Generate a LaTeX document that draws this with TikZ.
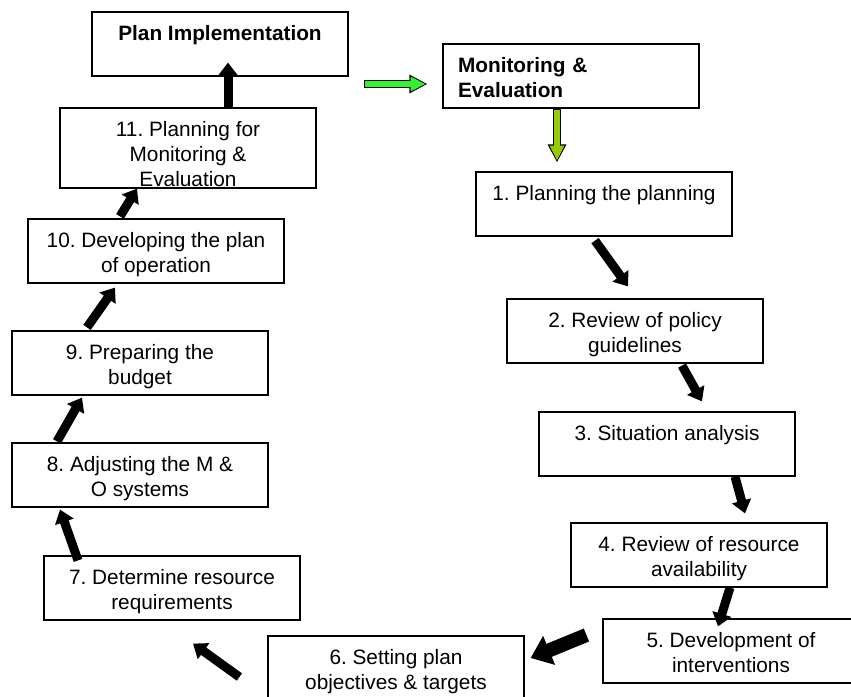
\documentclass[tikz,border=0pt]{standalone}
\usepackage{fontspec}
\setmainfont{Liberation Sans}
\usetikzlibrary{arrows.meta,calc}

\definecolor{brightgreen}{RGB}{51,240,51}
\definecolor{olivegreen}{RGB}{153,204,0}

\tikzset{
  stepbox/.style={draw, line width=1.2pt, inner sep=0pt, minimum width=256pt, minimum height=64pt},
  steptext/.style={anchor=north, yshift=-14pt, inner sep=0pt, align=center, font=\fontsize{20.8}{24.8}\selectfont},
  boldtext/.style={steptext, font=\fontsize{20.8}{24.8}\selectfont\bfseries},
  blockarrow/.style={line width=9pt, -{Triangle[length=13pt,width=19pt]}},
  bigarrow/.style={line width=14pt, -{Triangle[length=20pt,width=30pt]}},
  outlinearrow/.style={line width=8.6pt, -{Triangle[length=18pt,width=17.5pt]}},
  fillarrow/.style={#1, line width=6pt, shorten <=1.3pt, shorten >=1.8pt, -{Triangle[length=15pt,width=13.5pt]}},
}

\begin{document}
\frenchspacing
\begin{tikzpicture}[x=1pt,y=-1pt]

  \clip (0,0) rectangle (851,696);
  \fill[white] (0,0) rectangle (851,696);

  \node[stepbox, label={[boldtext]north:Plan Implementation}] (pi) at (220,44) {};
  \node[stepbox, label={[boldtext, text width=226pt, align=left]north:{Monitoring \&\\Evaluation}}] (me) at (571,76) {};

  \node[stepbox, label={[steptext]north:1. Planning the planning}] (b1) at (604,204) {};
  \node[stepbox, label={[steptext]north:{2. Review of policy\\guidelines}}] (b2) at (635,331) {};
  \node[stepbox, label={[steptext]north:3. Situation analysis}] (b3) at (667,444) {};
  \node[stepbox, label={[steptext]north:{4. Review of resource\\availability}}] (b4) at (699,555) {};
  \node[stepbox, label={[steptext]north:{5. Development of\\interventions}}] (b5) at (731,651) {};
  \node[stepbox, label={[steptext]north:{6. Setting plan\\objectives \& targets}}] (b6) at (396,668) {};
  \node[stepbox, label={[steptext]north:{7. Determine resource\\requirements}}] (b7) at (172,588) {};
  \node[stepbox, label={[steptext]north:{8. Adjusting the M \&\\O systems}}] (b8) at (140,475) {};
  \node[stepbox, label={[steptext]north:{9. Preparing the\\budget}}] (b9) at (140,363) {};
  \node[stepbox, label={[steptext]north:{10. Developing the plan\\of operation}}] (b10) at (156,251) {};
  \node[stepbox, minimum height=80pt, label={[steptext]north:{11. Planning for\\Monitoring \&\\Evaluation}}] (b11) at (188,148) {};

  % Arrows
  \draw[outlinearrow] ($(pi.east)+(15,40)$) -- ($(me.west)+(-15,8)$);
  \draw[fillarrow=brightgreen] ($(pi.east)+(15,40)$) -- ($(me.west)+(-15,8)$);
  \draw[outlinearrow] ($(me.south)+(-14,0)$) -- ($(b1.north)+(-47,-9)$);
  \draw[fillarrow=olivegreen] ($(me.south)+(-14,0)$) -- ($(b1.north)+(-47,-9)$);

  \draw[blockarrow] ($(b1.south)+(-9,4)$)   -- ($(b2.north)+(-7,-12)$);
  \draw[blockarrow] ($(b2.south)+(47,2)$)   -- ($(b3.north)+(35,-10)$);
  \draw[blockarrow] ($(b3.south)+(68,0)$)   -- ($(b4.north)+(46,-9)$);
  \draw[blockarrow] ($(b4.south)+(31,0)$)   -- ($(b5.north)+(-13,8)$);
  \draw[bigarrow]   ($(b5.west)+(-16,-16)$) -- ($(b6.east)+(6,-10)$);
  \draw[blockarrow] ($(b6.west)+(-28,9)$)   -- ($(b7.south)+(21,23)$);
  \draw[blockarrow] ($(b7.north)+(-94,5)$)  -- ($(b8.south)+(-80,2)$);
  \draw[blockarrow] ($(b8.north)+(-83,-1)$) -- ($(b9.south)+(-58,2)$);
  \draw[blockarrow] ($(b9.north)+(-53,-3)$) -- ($(b10.south)+(-41,4)$);
  \draw[blockarrow] ($(b10.north)+(-36,-2)$) -- ($(b11.south)+(-51,0)$);
  \draw[blockarrow] ($(b11.north)+(40,0)$)  -- ($(pi.south)+(8,-14)$);

\end{tikzpicture}
\end{document}
